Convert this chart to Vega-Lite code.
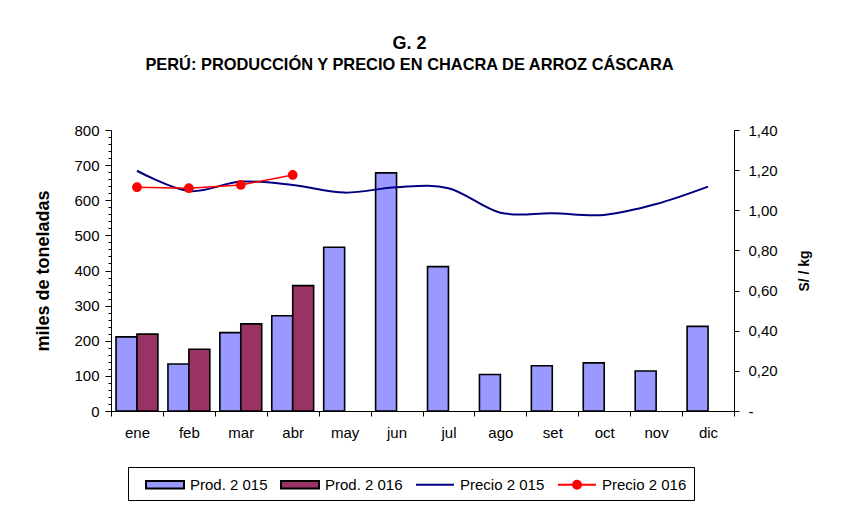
{
  "$schema": "https://vega.github.io/schema/vega-lite/v6.json",
  "width": 623,
  "height": 281,
  "autosize": {"type": "none"},
  "padding": {"left": 111, "top": 130, "right": 107, "bottom": 95},
  "background": "white",
  "config": {
    "view": {"stroke": null},
    "font": "Liberation Sans",
    "axis": {
      "labelFont": "Liberation Sans",
      "labelColor": "black",
      "labelFontSize": 15,
      "domainColor": "black",
      "tickColor": "black",
      "grid": false,
      "titleColor": "black",
      "titleFont": "Liberation Sans"
    }
  },
  "title": {
    "text": "G. 2",
    "subtitle": "PERÚ: PRODUCCIÓN Y PRECIO EN CHACRA DE ARROZ CÁSCARA",
    "anchor": "middle",
    "frame": "group",
    "dx": -13,
    "offset": 50,
    "font": "Liberation Sans",
    "fontSize": 18,
    "fontWeight": "bold",
    "color": "black",
    "subtitleFont": "Liberation Sans",
    "subtitleFontSize": 16.4,
    "subtitleFontWeight": "bold",
    "subtitleColor": "black",
    "subtitlePadding": 4
  },
  "datasets": {
    "prod": [
      {"mes": "ene", "serie": "Prod. 2 015", "prod": 211},
      {"mes": "feb", "serie": "Prod. 2 015", "prod": 134},
      {"mes": "mar", "serie": "Prod. 2 015", "prod": 223},
      {"mes": "abr", "serie": "Prod. 2 015", "prod": 271},
      {"mes": "may", "serie": "Prod. 2 015", "prod": 466},
      {"mes": "jun", "serie": "Prod. 2 015", "prod": 678},
      {"mes": "jul", "serie": "Prod. 2 015", "prod": 411},
      {"mes": "ago", "serie": "Prod. 2 015", "prod": 104},
      {"mes": "set", "serie": "Prod. 2 015", "prod": 129},
      {"mes": "oct", "serie": "Prod. 2 015", "prod": 137},
      {"mes": "nov", "serie": "Prod. 2 015", "prod": 114},
      {"mes": "dic", "serie": "Prod. 2 015", "prod": 241},
      {"mes": "ene", "serie": "Prod. 2 016", "prod": 219},
      {"mes": "feb", "serie": "Prod. 2 016", "prod": 176},
      {"mes": "mar", "serie": "Prod. 2 016", "prod": 248},
      {"mes": "abr", "serie": "Prod. 2 016", "prod": 357}
    ],
    "precio": [
      {"mes": "ene", "serie": "Precio 2 015", "precio": 1.197},
      {"mes": "feb", "serie": "Precio 2 015", "precio": 1.096},
      {"mes": "mar", "serie": "Precio 2 015", "precio": 1.143},
      {"mes": "abr", "serie": "Precio 2 015", "precio": 1.126},
      {"mes": "may", "serie": "Precio 2 015", "precio": 1.088},
      {"mes": "jun", "serie": "Precio 2 015", "precio": 1.115},
      {"mes": "jul", "serie": "Precio 2 015", "precio": 1.11},
      {"mes": "ago", "serie": "Precio 2 015", "precio": 0.988},
      {"mes": "set", "serie": "Precio 2 015", "precio": 0.985},
      {"mes": "oct", "serie": "Precio 2 015", "precio": 0.977},
      {"mes": "nov", "serie": "Precio 2 015", "precio": 1.031},
      {"mes": "dic", "serie": "Precio 2 015", "precio": 1.118},
      {"mes": "ene", "serie": "Precio 2 016", "precio": 1.115},
      {"mes": "feb", "serie": "Precio 2 016", "precio": 1.11},
      {"mes": "mar", "serie": "Precio 2 016", "precio": 1.126},
      {"mes": "abr", "serie": "Precio 2 016", "precio": 1.176}
    ]
  },
  "layer": [
    {
      "data": {"name": "prod"},
      "mark": {"type": "bar", "stroke": "black", "strokeWidth": 1.6},
      "encoding": {
        "x": {
          "field": "mes",
          "type": "nominal",
          "sort": ["ene", "feb", "mar", "abr", "may", "jun", "jul", "ago", "set", "oct", "nov", "dic"],
          "scale": {"paddingInner": 0, "paddingOuter": 0},
          "axis": {"title": null, "tickBand": "extent", "labelAngle": 0, "tickSize": 5, "labelPadding": 9}
        },
        "xOffset": {
          "field": "serie",
          "type": "nominal",
          "scale": {"domain": ["Prod. 2 015", "Prod. 2 016"], "paddingInner": 0, "paddingOuter": 0.24}
        },
        "y": {
          "field": "prod",
          "type": "quantitative",
          "scale": {"domain": [0, 800], "nice": false},
          "axis": {
            "title": "miles de toneladas",
            "titleFontSize": 18,
            "titleFontWeight": "bold",
            "titlePadding": 21,
            "values": [0,20,40,60,80,100,120,140,160,180,200,220,240,260,280,300,320,340,360,380,400,420,440,460,480,500,520,540,560,580,600,620,640,660,680,700,720,740,760,780,800],
            "labelExpr": "datum.value % 100 === 0 ? datum.label : ''",
            "tickSize": {"condition": {"test": "datum.value % 100 === 0", "value": 6}, "value": 3},
            "labelPadding": 6
          }
        },
        "fill": {
          "field": "serie",
          "type": "nominal",
          "scale": {
            "domain": ["Prod. 2 015", "Prod. 2 016", "Precio 2 015", "Precio 2 016"],
            "range": ["#9999FF", "#993366", "#000080", "#FF0000"]
          },
          "legend": {
            "orient": "none",
            "legendX": 17,
            "legendY": 337,
            "direction": "horizontal",
            "columns": 4,
            "title": null,
            "strokeColor": "black",
            "fillColor": "white",
            "padding": 7,
            "labelFont": "Liberation Sans",
            "labelFontSize": 15,
            "labelColor": "black",
            "labelOffset": 14.5,
            "symbolOffset": 19.5,
            "columnPadding": 2,
            "symbolSize": 361,
            "labelLimit": 200,
            "symbolType": {"expr": "indexof(datum.value, 'Prod') === 0 ? 'M-2,-0.4H2V0.4H-2Z' : (datum.value === 'Precio 2 016' ? 'M-2,0H2M0.42,0A0.42,0.42,0,1,1,-0.42,0A0.42,0.42,0,1,1,0.42,0' : 'M-2,0H2')"},
            "symbolStrokeWidth": 2
          }
        }
      }
    },
    {
      "data": {"name": "precio"},
      "encoding": {
        "x": {
          "field": "mes",
          "type": "nominal",
          "sort": ["ene", "feb", "mar", "abr", "may", "jun", "jul", "ago", "set", "oct", "nov", "dic"],
          "scale": {"paddingInner": 0, "paddingOuter": 0},
          "axis": {"title": null, "tickBand": "extent", "labelAngle": 0, "tickSize": 5, "labelPadding": 9}
        },
        "y": {
          "field": "precio",
          "type": "quantitative",
          "scale": {"domain": [0, 1.4], "nice": false},
          "axis": {
            "orient": "right",
            "title": "S/ / kg",
            "titleFontSize": 14,
            "titleFontWeight": "bold",
            "titleAngle": 270,
            "titlePadding": 34,
            "values": [0, 0.2, 0.4, 0.6, 0.8, 1.0, 1.2, 1.4],
            "labelExpr": "datum.value === 0 ? '-' : replace(format(datum.value, '.2f'), '.', ',')",
            "tickSize": 5,
            "labelPadding": 9
          }
        },
        "stroke": {
          "field": "serie",
          "type": "nominal",
          "scale": {
            "domain": ["Prod. 2 015", "Prod. 2 016", "Precio 2 015", "Precio 2 016"],
            "range": ["black", "black", "#000080", "#FF0000"]
          }
        }
      },
      "layer": [
        {
          "transform": [{"filter": "datum.serie === 'Precio 2 015'"}],
          "mark": {"type": "line", "interpolate": "cardinal", "strokeWidth": 2}
        },
        {
          "transform": [{"filter": "datum.serie === 'Precio 2 016'"}],
          "mark": {"type": "line", "strokeWidth": 1.5, "point": {"filled": true, "fill": "#FF0000", "size": 60}}
        }
      ]
    }
  ],
  "resolve": {"scale": {"y": "independent"}}
}
